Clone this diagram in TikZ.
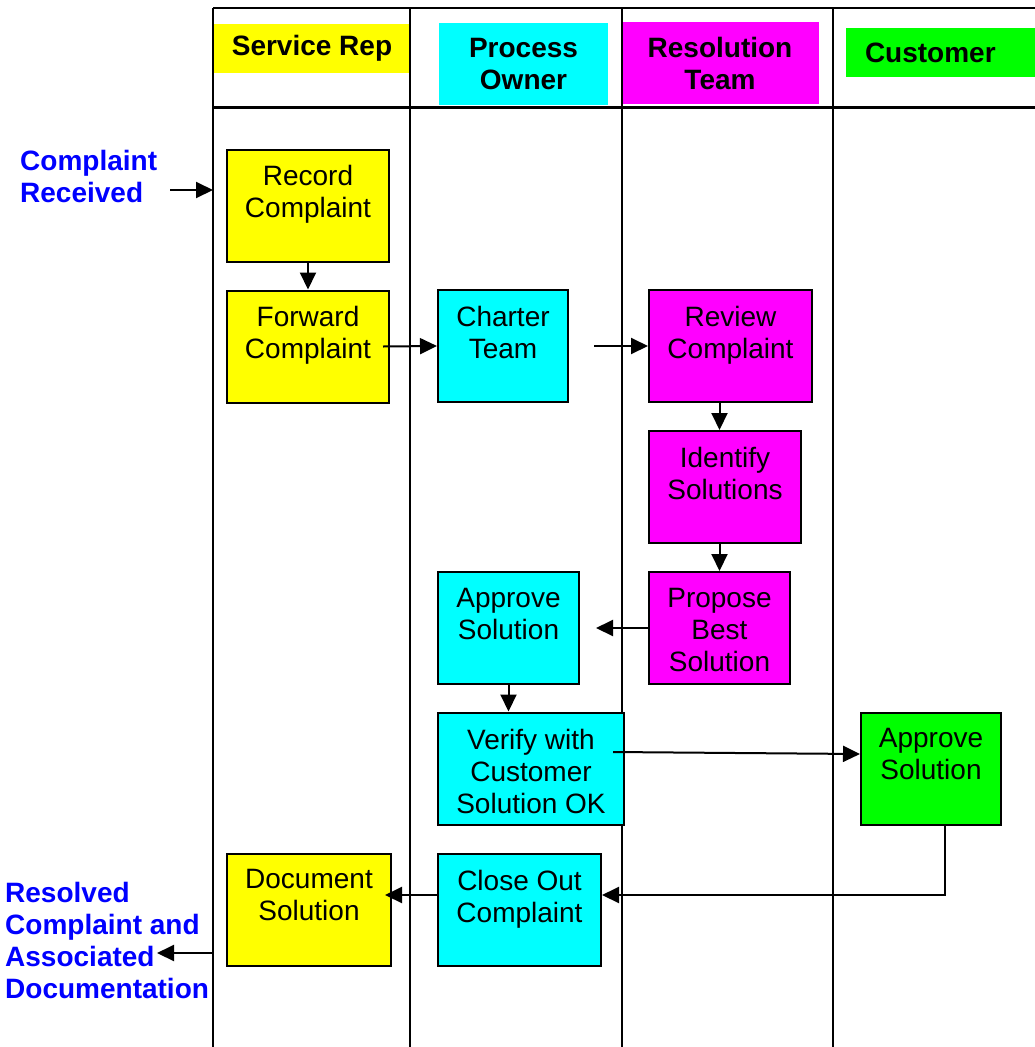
\documentclass[tikz,border=0pt]{standalone}
\usepackage{fontspec}
\setmainfont{Liberation Sans}
\usetikzlibrary{arrows.meta}
\newcommand{\flowfont}{\fontsize{28}{32}\selectfont}
\definecolor{repyellow}{RGB}{255,255,0}
\definecolor{owncyan}{RGB}{0,255,255}
\definecolor{teammagenta}{RGB}{255,0,255}
\definecolor{custgreen}{RGB}{0,255,0}
\definecolor{outblue}{RGB}{0,0,255}

\begin{document}
\begin{tikzpicture}[
	x=1pt, y=-1pt,
	every node/.style={font=\flowfont},
	stepbox/.style={draw, line width=2pt, minimum height=112pt,
		label={[align=center, anchor=north, inner sep=0pt, yshift=-17pt]north:#1}},
	lanehead/.style={align=center, font=\flowfont\bfseries, inner sep=0pt},
	outcome/.style={align=left, font=\flowfont\bfseries, text=outblue, inner sep=0pt, anchor=north west},
	flow/.style={line width=2pt, -{Triangle[length=17pt, width=16pt]}},
	lane/.style={line width=2pt},
	]
	\useasboundingbox (0,0) rectangle (1035,1047);
	
	%Lane headers
	\node[lanehead, fill=repyellow,   minimum width=198pt, minimum height=49pt] (hrep)  at (312,48.5) {Service Rep};
	\node[lanehead, fill=owncyan,     minimum width=169pt, minimum height=82pt] (hown)  at (523.5,64) {Process\\Owner};
	\node[lanehead, fill=teammagenta, minimum width=198pt, minimum height=82pt] (hteam) at (720,63)   {Resolution\\Team};
	\node[lanehead, fill=custgreen, text width=151pt, inner xsep=19pt, minimum height=49pt, align=left] (hcust) at (940.5,52.5) {Customer};
	
	%Lanes
	\foreach \x in {213,410,622,833}
		\draw[lane] (\x,8) -- (\x,1047);
	\draw[lane] (213,8) -- (1035,8);
	\draw[line width=3pt] (213,107) -- (1035,107);
	
	%Nodes
	\node[stepbox={Record\\Complaint},  fill=repyellow,   minimum width=162pt] (rec)   at (308,205.5)   {};
	\node[stepbox={Forward\\Complaint}, fill=repyellow,   minimum width=162pt] (fwd)   at (308,346.5)   {};
	\node[stepbox={Charter\\Team},      fill=owncyan,     minimum width=130pt] (char)  at (503,346)     {};
	\node[stepbox={Review\\Complaint},  fill=teammagenta, minimum width=163pt] (rev)   at (730.5,346)   {};
	\node[stepbox={Identify\\Solutions},fill=teammagenta, minimum width=152pt] (iden)  at (725,487)     {};
	\node[stepbox={Propose\\Best\\Solution}, fill=teammagenta, minimum width=141pt] (prop) at (719.5,628) {};
	\node[stepbox={Approve\\Solution},  fill=owncyan,     minimum width=141pt] (appr)  at (508.5,628)   {};
	\node[stepbox={Verify with\\Customer\\Solution OK}, fill=owncyan, minimum width=186pt] (ver) at (531,768.5) {};
	\node[stepbox={Approve\\Solution},  fill=custgreen,   minimum width=140pt] (capp)  at (931,768.5)   {};
	\node[stepbox={Document\\Solution}, fill=repyellow,   minimum width=164pt] (doc)   at (309,909.5)   {};
	\node[stepbox={Close Out\\Complaint}, fill=owncyan,   minimum width=163pt] (close) at (519.5,909.5) {};
	
	\node[outcome] (inlbl)  at (20,150) {Complaint\\Received};
	\node[outcome] (outlbl) at (5,882)  {Resolved\\Complaint and\\Associated\\Documentation};
	\coordinate (in-a)  at (170,190);
	\coordinate (in-b)  at (213,190);
	\coordinate (out-a) at (213,953);
	\coordinate (out-b) at (157,953);
	
	%Lines
	\draw[flow] (in-a) -- (in-b);
	\draw[flow] (rec) -- (fwd);
	\draw[flow] ([xshift=-7pt]fwd.east) -- (char.west);
	\draw[flow] ([xshift=25pt]char.east) -- (rev.west);
	\draw[flow] (prop.north |- rev.south) -- (prop.north |- iden.north);
	\draw[flow] (prop.north |- iden.south) -- (prop.north);
	\draw[flow] (prop.west) -- ([xshift=16pt]appr.east);
	\draw[flow] (appr.south) -- (appr.south |- ver.north);
	\draw[flow] ([xshift=-12pt, yshift=16.5pt]ver.east) -- ([yshift=14.5pt]capp.west);
	\draw[flow] ([xshift=14pt]capp.south) |- ([yshift=14.5pt]close.east);
	\draw[flow] ([yshift=14.5pt]close.west) -- ([xshift=-7pt, yshift=14.5pt]doc.east);
	\draw[flow] (out-a) -- (out-b);
\end{tikzpicture}
\end{document}
